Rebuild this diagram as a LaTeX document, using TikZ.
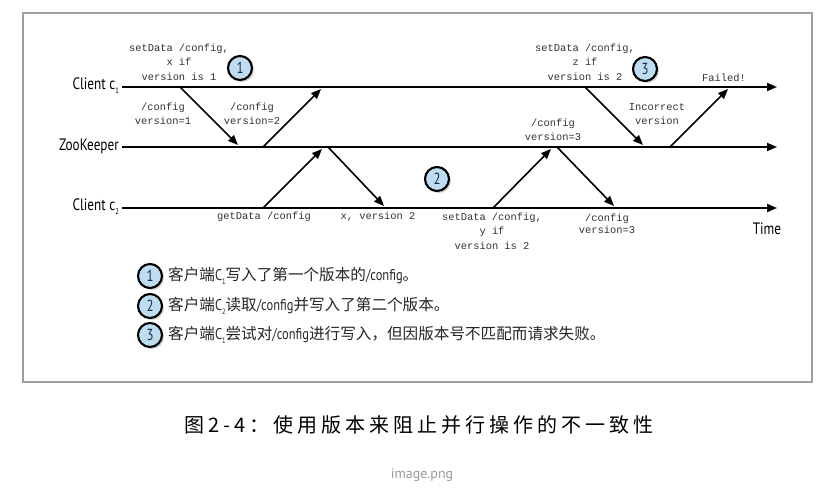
\documentclass[tikz,border=0pt]{standalone}
\usepackage{graphicx}
\usepackage{fontspec}
\setmainfont{Liberation Sans}
\newfontfamily\cjk{Noto Sans CJK SC}
\newfontfamily\capfont[LetterSpace=20]{Noto Sans CJK SC}
\newfontfamily\monof{Liberation Mono}
\newfontfamily\ptsans{PT Sans}
\newcommand\cond[1]{\scalebox{0.8}[1]{\ptsans #1}}
\newcommand\lowsub[1]{\raisebox{-0.25em}{\fontsize{8}{8}\selectfont #1}}
\usetikzlibrary{arrows.meta,shadows}
\definecolor{numfill}{HTML}{BFDDF0}
\definecolor{numtext}{HTML}{1C2B4A}
\definecolor{labtext}{HTML}{333333}
\begin{document}
\begin{tikzpicture}[x=1pt,y=-1pt,
  lbl/.style={font=\fontsize{10.4}{14.3}\selectfont\monof, text=labtext, align=center, inner sep=0pt},
  lanename/.style={anchor=east, inner sep=0pt, font=\fontsize{16.5}{16.5}\selectfont, text=black},
  lane/.style={line width=1.8pt, -{Triangle[length=10pt,width=8pt]}},
  msg/.style={line width=1.6pt, -{Triangle[length=10pt,width=8pt]}},
  num/.style={circle, draw=black, line width=2.1pt, fill=numfill, minimum size=24pt, inner sep=0pt,
    font=\fontsize{16}{16}\selectfont, text=numtext,
    drop shadow={shadow xshift=2pt, shadow yshift=-2pt, opacity=0.35}},
  legend/.style={anchor=west, inner sep=0pt, font=\fontsize{15.6}{15.6}\selectfont\cjk, text=black!85}
]
\useasboundingbox[fill=white] (0,0) rectangle (837,497);
\draw[gray!75, line width=1.4pt] (23,13) rectangle (812,382);

% lanes
\node[lanename] (lc1) at (119,86) {\cond{Client c\lowsub{1}}};
\node[lanename] (lzk) at (119,146) {\cond{ZooKeeper}};
\node[lanename] (lc2) at (119,207) {\cond{Client c\lowsub{2}}};
\coordinate (c1s) at (122,87);  \coordinate (c1e) at (777,87);
\coordinate (zks) at (122,147); \coordinate (zke) at (777,147);
\coordinate (c2s) at (122,208); \coordinate (c2e) at (777,208);
\draw[lane] (c1s) -- (c1e);
\draw[lane] (zks) -- (zke);
\draw[lane] (c2s) -- (c2e);

% message points
\coordinate (a1) at (180,87);  \coordinate (a2) at (238,145);
\coordinate (b1) at (263,147); \coordinate (b2) at (321,89);
\coordinate (d1) at (263,208); \coordinate (d2) at (322,149);
\coordinate (e1) at (328,147); \coordinate (e2) at (384,206);
\coordinate (f1) at (493,208); \coordinate (f2) at (551,149);
\coordinate (g1) at (557,147); \coordinate (g2) at (614,206);
\coordinate (h1) at (585,87);  \coordinate (h2) at (643,145);
\coordinate (k1) at (670,147); \coordinate (k2) at (728,89);
\draw[msg] (a1) -- (a2);
\draw[msg] (b1) -- (b2);
\draw[msg] (d1) -- (d2);
\draw[msg] (e1) -- (e2);
\draw[msg] (f1) -- (f2);
\draw[msg] (g1) -- (g2);
\draw[msg] (h1) -- (h2);
\draw[msg] (k1) -- (k2);

% labels
\node[lbl] (t1) at (179,62) {setData /config,\\x if\\version is 1};
\node[lbl] (t2) at (163,114) {/config\\version=1};
\node[lbl] (t3) at (252,114) {/config\\version=2};
\node[lbl] (t4) at (264,217) {getData /config};
\node[lbl] (t5) at (378,217) {x, version 2};
\node[lbl] (t6) at (492,231) {setData /config,\\y if\\version is 2};
\node[lbl] (t7) at (553,130) {/config\\version=3};
\node[lbl, font=\fontsize{10.4}{12.5}\selectfont\monof] (t8) at (607,224) {/config\\version=3};
\node[lbl] (t9) at (585,62) {setData /config,\\z if\\version is 2};
\node[lbl] (t10) at (657,114) {Incorrect\\version};
\node[lbl] (t11) at (724,78) {Failed!};
\node[anchor=center, inner sep=0pt, font=\fontsize{16.5}{16.5}\selectfont] (time) at (767,229) {\cond{Time}};

% numbered markers
\node[num] (n1) at (240,68) {\cond{1}};
\node[num] (n2) at (437,179) {\cond{2}};
\node[num] (n3) at (645,69) {\cond{3}};

% legend
\node[num] (m1) at (150,276) {\cond{1}};
\node[num] (m2) at (150,306) {\cond{2}};
\node[num] (m3) at (150,335) {\cond{3}};
\node[legend] (l1) at (168,276) {客户端\cond{C\lowsub{1}}写入了第一个版本的\cond{/config}。};
\node[legend] (l2) at (168,306) {客户端\cond{C\lowsub{2}}读取\cond{/config}并写入了第二个版本。};
\node[legend] (l3) at (168,335) {客户端\cond{C\lowsub{1}}尝试对\cond{/config}进行写入，但因版本号不匹配而请求失败。};

% caption
\node[inner sep=0pt, font=\fontsize{20}{20}\selectfont\capfont, text=black] (cap) at (419,425) {图2-4：使用版本来阻止并行操作的不一致性};
\node[inner sep=0pt, font=\fontsize{14}{14}\selectfont\ptsans, text=gray!80] (img) at (422,475) {image.png};
\end{tikzpicture}
\end{document}
